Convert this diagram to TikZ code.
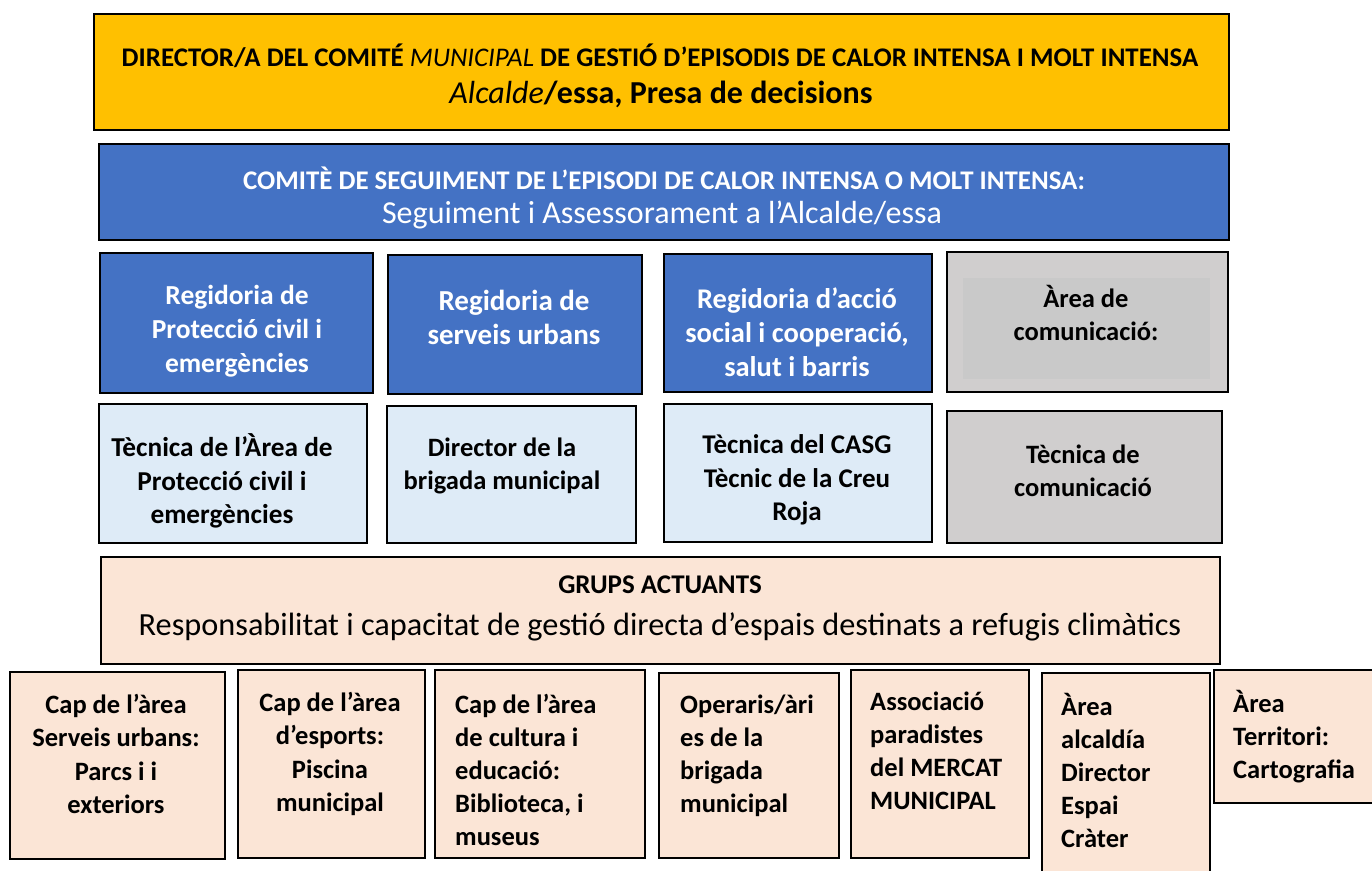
\documentclass[tikz,border=0pt]{standalone}
\usepackage{fontspec}
\setmainfont{Carlito}
\definecolor{cOrange}{HTML}{FFC000}
\definecolor{cBlue}{HTML}{4472C4}
\definecolor{cLight}{HTML}{DEEBF7}
\definecolor{cGrey}{HTML}{D0CECE}
\definecolor{cGreyIn}{HTML}{C9C9C9}
\definecolor{cPeach}{HTML}{FBE5D6}
\newcommand\mkbox[6]{\node[boxbase,#6,minimum width={((#4)-(#2))*1pt},minimum height={((#5)-(#3))*1pt}] (#1) at (#2,#3) {};}
\begin{document}
\begin{tikzpicture}[x=1pt,y=-1pt,
  boxbase/.style={draw=black,line width=1.7pt,inner sep=0pt,anchor=north west},
  orangebox/.style={fill=cOrange},
  bluebox/.style={fill=cBlue},
  lightbox/.style={fill=cLight},
  greybox/.style={fill=cGrey},
  peachbox/.style={fill=cPeach},
  txt/.style={inner sep=0pt,align=center,font=\fontsize{26.5}{33.5}\selectfont\bfseries},
  ltxt/.style={inner sep=0pt,align=left,anchor=west,font=\fontsize{26.5}{33}\selectfont\bfseries},
  wtxt/.style={txt,text=white}]
\useasboundingbox (0,0) rectangle (1372,870);
\fill[white] (0,0) rectangle (1372,870);
% top boxes
\mkbox{dir}{93}{13}{1228}{129}{orangebox}
\node[inner sep=0pt,anchor=base,font=\fontsize{26.9}{32}\selectfont\bfseries] (dir1) at (660,66) {DIRECTOR/A DEL COMITÉ \textit{\mdseries MUNICIPAL} DE GESTIÓ D’EPISODIS DE CALOR INTENSA I MOLT INTENSA};
\node[inner sep=0pt,anchor=base,font=\fontsize{32}{38}\selectfont] (dir2) at (661,103) {\textit{Alcalde}\textbf{/essa, Presa de decisions}};
\mkbox{com}{98}{143}{1228}{239}{bluebox}
\node[inner sep=0pt,anchor=base,text=white,font=\fontsize{26.9}{32}\selectfont\bfseries] (com1) at (664,189) {COMITÈ DE SEGUIMENT DE L’EPISODI DE CALOR INTENSA O MOLT INTENSA:};
\node[inner sep=0pt,anchor=base,text=white,font=\fontsize{32}{38}\selectfont] (com2) at (662,223) {Seguiment i Assessorament a l’Alcalde/essa};
% row 1
\mkbox{ra}{99}{252}{372}{392}{bluebox}
\mkbox{rb}{387}{254}{641}{393}{bluebox}
\mkbox{rc}{663}{253}{931}{391}{bluebox}
\mkbox{rd}{946}{251}{1227}{391}{greybox}
\fill[cGreyIn] (963,278) rectangle (1210,379);
\node[wtxt,font=\fontsize{27.5}{34}\selectfont\bfseries] (ta) at (237,331) {Regidoria de\\Protecció civil i\\emergències};
\node[wtxt,font=\fontsize{29}{34}\selectfont\bfseries] (tb) at (514,317) {Regidoria de\\serveis urbans};
\node[wtxt,font=\fontsize{28.5}{34}\selectfont\bfseries] (tc) at (797,332) {Regidoria d’acció\\social i cooperació,\\salut i barris};
\node[txt] (td) at (1086,313) {Àrea de\\comunicació:};
% row 2
\mkbox{re}{98}{403}{366}{542}{lightbox}
\mkbox{rf}{386}{405}{635}{542}{lightbox}
\mkbox{rg}{663}{403}{931}{541}{lightbox}
\mkbox{rh}{946}{410}{1221}{542}{greybox}
\node[txt,font=\fontsize{27.3}{33.5}\selectfont\bfseries] (te) at (222,481) {Tècnica de l’Àrea de\\Protecció civil i\\emergències};
\node[txt] (tf) at (502,466) {Director de la\\brigada municipal};
\node[txt,font=\fontsize{27}{33.5}\selectfont\bfseries] (tg) at (797,480) {Tècnica del CASG\\Tècnic de la Creu\\Roja};
\node[txt] (th) at (1083,471) {Tècnica de\\comunicació};
% grups
\mkbox{gr}{100}{556}{1219}{663}{peachbox}
\node[inner sep=0pt,anchor=base,font=\fontsize{27}{32}\selectfont\bfseries] (gr1) at (660,593) {GRUPS ACTUANTS};
\node[inner sep=0pt,anchor=base,font=\fontsize{32.3}{38}\selectfont] (gr2) at (660,635) {Responsabilitat i capacitat de gestió directa d’espais destinats a refugis climàtics};
% bottom row
\mkbox{b1}{9}{671}{224}{858}{peachbox}
\mkbox{b2}{237}{669}{424}{857}{peachbox}
\mkbox{b3}{434}{669}{644}{857}{peachbox}
\mkbox{b4}{658}{672}{838}{857}{peachbox}
\mkbox{b5}{850}{669}{1028}{857}{peachbox}
\mkbox{b6}{1041}{672}{1209}{874}{peachbox}
\mkbox{b7}{1213}{669}{1376}{802}{peachbox}
\node[txt] (t1) at (116,754) {Cap de l’àrea\\Serveis urbans:\\Parcs i i\\exteriors};
\node[txt] (t2) at (330,754) {Cap de l’àrea\\d’esports:\\Piscina\\municipal};
\node[ltxt] (t3) at (455,770) {Cap de l’àrea\\de cultura i\\educació:\\Biblioteca, i\\museus};
\node[ltxt] (t4) at (680,756) {Operaris/àri\\es de la\\brigada\\municipal};
\node[ltxt] (t5) at (870,751) {Associació\\paradistes\\del MERCAT\\MUNICIPAL};
\node[ltxt] (t6) at (1061,770) {Àrea\\alcaldía\\Director\\Espai\\Cràter};
\node[ltxt] (t7) at (1233,737) {Àrea\\Territori:\\Cartografia};
\end{tikzpicture}
\end{document}
